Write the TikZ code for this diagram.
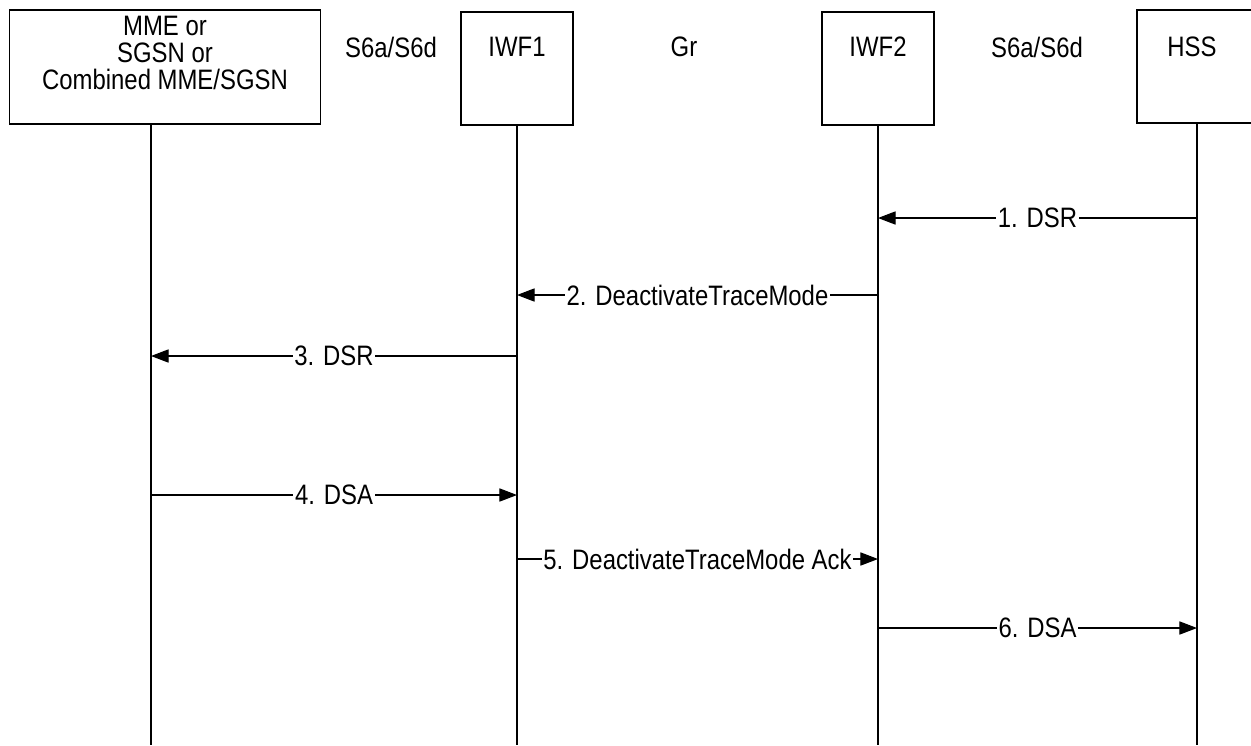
\documentclass[tikz,border=0pt]{standalone}
\usepackage{fontspec}
\setmainfont{Liberation Sans}[FakeStretch=0.85]
\usetikzlibrary{arrows.meta,positioning,calc}
\newcommand{\dfont}{\fontsize{16}{15.6}\selectfont}

\begin{document}
\begin{tikzpicture}[x=0.02cm,y=-0.02cm,>={Triangle[length=10pt,width=7.5pt]},
  ent/.style={draw,line width=0.6pt,inner sep=0pt},
  txt/.style={font=\dfont,align=center,inner sep=0pt},
  msg/.style={->,line width=0.6pt},
  lbl/.style={fill=white,font=\dfont,inner xsep=1pt,inner ysep=2pt}]
\clip (0,0) rectangle (1251,745);
% entities
\node[ent,minimum width=6.24cm,minimum height=2.28cm] (mme) at (165,67) {};
\node[txt] (mmetxt) at (165,53) {MME or\\SGSN or\\Combined MME/SGSN};
\node[ent,minimum width=2.24cm,minimum height=2.26cm] (iwf1) at (517,68.5) {};
\node[txt] (iwf1txt) at (517,47) {IWF1};
\node[ent,minimum width=2.24cm,minimum height=2.26cm] (iwf2) at (878,68.5) {};
\node[txt] (iwf2txt) at (878,47) {IWF2};
\node[ent,minimum width=2.4cm,minimum height=2.26cm] (hss) at (1197,66.5) {};
\node[txt] (hsstxt) at (1192,47) {HSS};
% interfaces
\node[txt] (if1) at (391,47) {S6a/S6d};
\node[txt] (if2) at (684,47) {Gr};
\node[txt] (if3) at (1037,47) {S6a/S6d};
% lifelines
\coordinate (mmeE) at (151,745);
\coordinate (iwf1E) at (517,745);
\coordinate (iwf2E) at (878,745);
\coordinate (hssE) at (1197,745);
\draw[line width=0.6pt] (mmeE |- mme.south) -- (mmeE);
\draw[line width=0.6pt] (iwf1.south) -- (iwf1E);
\draw[line width=0.6pt] (iwf2.south) -- (iwf2E);
\draw[line width=0.6pt] (hss.south) -- (hssE);
% messages
\coordinate (m1) at (0,218);
\coordinate (m2) at (0,295);
\coordinate (m3) at (0,356);
\coordinate (m4) at (0,495);
\coordinate (m5) at (0,559);
\coordinate (m6) at (0,628);
\draw[msg] (hssE |- m1) -- node[lbl] {1. DSR} (iwf2E |- m1);
\draw[msg] (iwf2E |- m2) -- node[lbl] {2. DeactivateTraceMode} (iwf1E |- m2);
\draw[msg] (iwf1E |- m3) -- node[lbl] {3. DSR} (mmeE |- m3);
\draw[msg] (mmeE |- m4) -- node[lbl] {4. DSA} (iwf1E |- m4);
\draw[msg] (iwf1E |- m5) -- node[lbl] {5. DeactivateTraceMode Ack} (iwf2E |- m5);
\draw[msg] (iwf2E |- m6) -- node[lbl] {6. DSA} (hssE |- m6);
\end{tikzpicture}
\end{document}
